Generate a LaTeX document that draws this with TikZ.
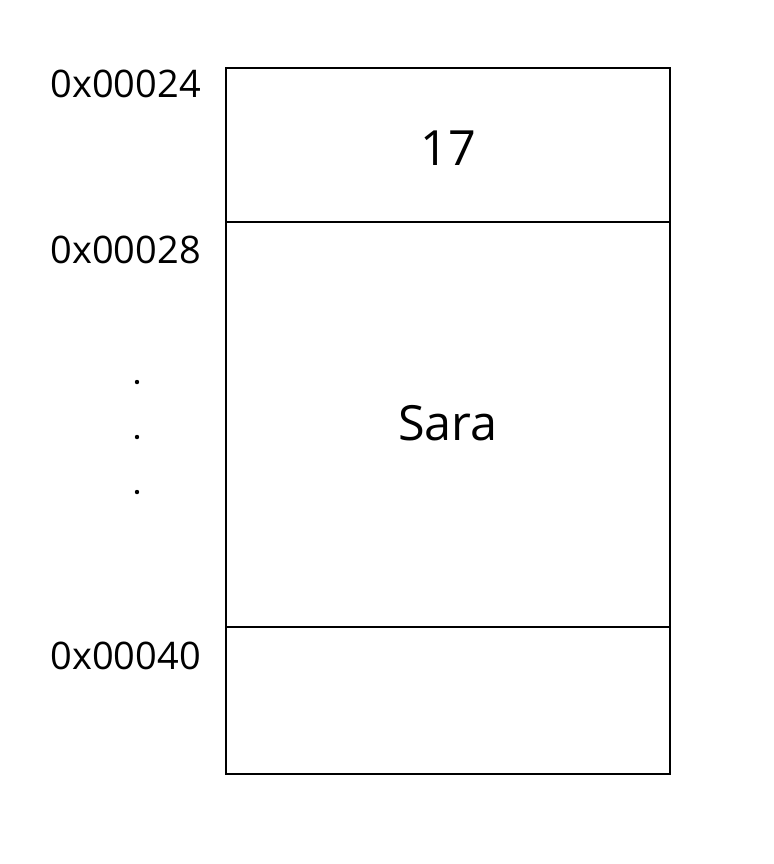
\documentclass[tikz,border=0pt]{standalone}
\usepackage{fontspec}
\setmainfont{Open Sans}
\usepackage{tikz}
\usetikzlibrary{positioning}

\tikzset{
  cell/.style={draw, line width=1.7pt, minimum width=11.1cm, inner sep=0pt, font=\fontsize{34.5}{40}\selectfont},
  addr/.style={anchor=east, inner sep=0pt, font=\fontsize{27}{32}\selectfont},
  dotmark/.style={circle, fill, inner sep=0pt, minimum size=0.11cm}
}

\begin{document}
\begin{tikzpicture}[x=0.025cm,y=-0.025cm]
\useasboundingbox (0,0) rectangle (774,864);
% memory cells
\node[cell, minimum height=3.85cm] (age) at (448,145) {};
\node[cell, minimum height=10.125cm] (name) at (448,424.5) {};
\node[cell, minimum height=3.675cm] (next) at (448,700.5) {};
\node[inner sep=0pt, font=\fontsize{34.5}{40}\selectfont] (agev) at (448,148) {17};
\node[inner sep=0pt, font=\fontsize{34.5}{40}\selectfont] (namev) at (448,423) {Sara};
% addresses
\node[addr] (a24) at (201,84) {0x00024};
\node[addr] (a28) at (201,250) {0x00028};
\node[addr] (a40) at (201,656) {0x00040};
% dots
\node[dotmark] (d1) at (137,382) {};
\node[dotmark] (d2) at (137,437) {};
\node[dotmark] (d3) at (137,492) {};
\end{tikzpicture}
\end{document}
